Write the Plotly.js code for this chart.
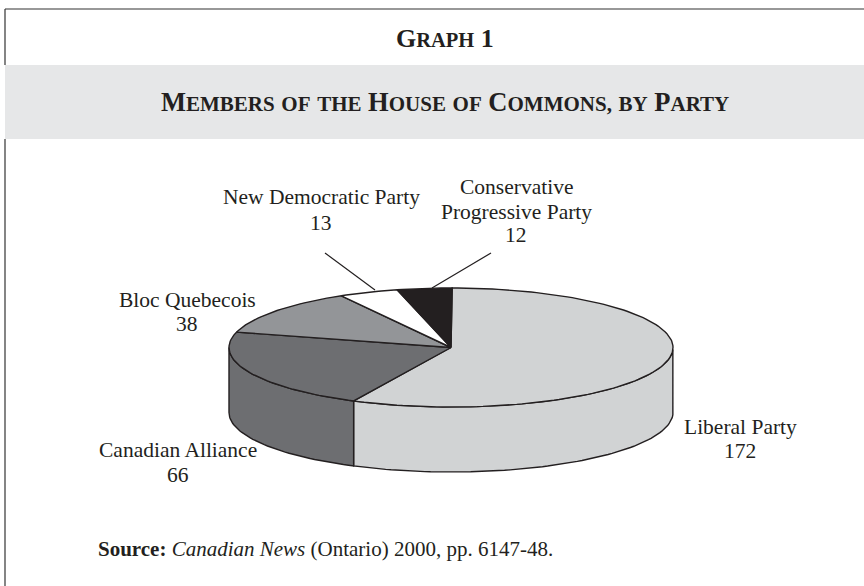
<!DOCTYPE html>
<html>
<head>
<meta charset="utf-8">
<script src="https://cdn.plot.ly/plotly-3.0.1.min.js"></script>
<style>html,body{margin:0;padding:0;background:#fff}#chart{width:864px;height:586px}</style>
</head>
<body>
<div id="chart"></div>
<script>
var categories = ["Liberal Party", "Canadian Alliance", "Bloc Quebecois", "New Democratic Party", "Conservative Progressive Party"];
var seats = [172, 66, 38, 13, 12];
var sliceColors = ["#d1d3d4", "#6d6e71", "#939598", "#ffffff", "#231f20"];
var labelLines = [["Liberal Party"], ["Canadian Alliance"], ["Bloc Quebecois"], ["New Democratic Party"], ["Conservative", "Progressive Party"]];
var labelX = [740, 178, 187, 321, 516];
var labelLineY = [[427, 451], [450, 475], [300, 324], [197, 223], [187, 212, 235]];

var ink = "#231f20";
var cx = 451, cy = 347.5, rx = 222, ry = 59.5, depth = 65, startDeg = 0.3;
var total = seats.reduce(function (a, b) { return a + b; }, 0);

function pt(deg, dy) {
  var r = deg * Math.PI / 180;
  return [cx + rx * Math.sin(r), cy - ry * Math.cos(r) + (dy || 0)];
}
function arc(a0, a1, dy) {
  var out = [], n = Math.max(2, Math.ceil(Math.abs(a1 - a0) / 1.5));
  for (var i = 0; i <= n; i++) out.push(pt(a0 + (a1 - a0) * i / n, dy));
  return out;
}
function polyTrace(points, fill, width) {
  return {
    type: "scatter", mode: "lines", hoverinfo: "skip", showlegend: false,
    x: points.map(function (p) { return p[0]; }),
    y: points.map(function (p) { return p[1]; }),
    fill: "toself", fillcolor: fill,
    line: { color: ink, width: width || 1.4 }
  };
}

var walls = [], tops = [], a = startDeg;
seats.forEach(function (v, i) {
  var a1 = a + v / total * 360;
  var lo = Math.max(a, 92), hi = Math.min(a1, 270);
  if (hi > lo) {
    walls.push(polyTrace(arc(lo, hi, 0).concat(arc(hi, lo, depth)).concat([pt(lo, 0)]), sliceColors[i]));
  }
  tops.push(polyTrace([[cx, cy]].concat(arc(a, a1, 0)).concat([[cx, cy]]), sliceColors[i]));
  a = a1;
});

var annotations = [];
function addText(x, y, text, size, anchor) {
  annotations.push({
    xref: "x", yref: "y", x: x, y: y, showarrow: false,
    xanchor: anchor || "center", yanchor: "middle", align: "center",
    text: text, borderpad: 0,
    font: { family: "Liberation Serif", size: size, color: ink }
  });
}
categories.forEach(function (c, i) {
  var lines = labelLines[i].concat([String(seats[i])]);
  lines.forEach(function (t, j) { addText(labelX[i], labelLineY[i][j], t, 21.5); });
});

function smallCaps(s, big, small) {
  return s.split(" ").map(function (w) {
    var first = /^[A-Z0-9]/.test(w) ? w[0] : "";
    var rest = first ? w.slice(1) : w;
    return (first ? "<span style='font-size:" + big + "px'>" + first + "</span>" : "") +
      "<span style='font-size:" + small + "px'>" + rest.toUpperCase() + "</span>";
  }).join(" ");
}
addText(445, 38, "<b>" + smallCaps("Graph 1", 26, 20.5) + "</b>", 26);
addText(445, 102, "<b>" + smallCaps("Members of the House of Commons, by Party", 26.5, 21) + "</b>", 26.5);
addText(97, 549, "<b>Source:</b> <i>Canadian News</i> (Ontario) 2000, pp. 6147-48.", 21, "left");

var layout = {
  width: 864, height: 586,
  margin: { l: 0, r: 0, t: 0, b: 0 },
  paper_bgcolor: "#ffffff", plot_bgcolor: "#ffffff",
  showlegend: false,
  xaxis: { range: [0, 864], visible: false, fixedrange: true },
  yaxis: { range: [586, 0], visible: false, fixedrange: true },
  annotations: annotations,
  shapes: [
    { type: "rect", layer: "below", xref: "x", yref: "y", x0: 5, x1: 864, y0: 65, y1: 139, fillcolor: "#e6e7e8", line: { width: 0 } },
    { type: "line", xref: "x", yref: "y", x0: 5, x1: 864, y0: 9, y1: 9, line: { color: "#333", width: 1.2 } },
    { type: "line", xref: "x", yref: "y", x0: 5, x1: 5, y0: 9, y1: 65, line: { color: "#333", width: 1.2 } },
    { type: "line", xref: "x", yref: "y", x0: 5, x1: 5, y0: 139, y1: 586, line: { color: "#333", width: 1.2 } },
    { type: "line", xref: "x", yref: "y", x0: 325, x1: 375, y0: 253, y1: 290, line: { color: ink, width: 1.2 } },
    { type: "line", xref: "x", yref: "y", x0: 491, x1: 432, y0: 253, y1: 288, line: { color: ink, width: 1.2 } }
  ]
};

Plotly.newPlot("chart", walls.concat(tops), layout, { displayModeBar: false, staticPlot: true });
</script>
</body>
</html>
